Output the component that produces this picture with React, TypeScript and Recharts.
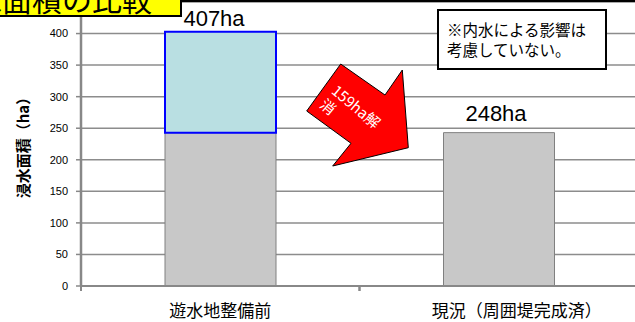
import { BarChart, Bar, XAxis, YAxis, CartesianGrid } from 'recharts';

const categories = ['遊水地整備前', '現況（周囲堤完成済）'];
const remainingArea = [243, 243];
const resolvedArea = [160, 0];
const yTicks = [0, 50, 100, 150, 200, 250, 300, 350, 400];
const totalLabels = ['407ha', '248ha'];

const data = categories.map((name, i) => ({
    name,
    remaining: remainingArea[i],
    resolved: resolvedArea[i],
}));

const jpFont = '"Noto Sans CJK JP", "Noto Sans", sans-serif';

function CategoryTick(props: any) {
    const { x, y, payload, index } = props;
    const half = payload?.offset ?? 139;
    const shift = index === 1 ? 18 : 0;
    return (
        <g>
            <line x1={x - half} x2={x - half} y1={y - 8} y2={y - 3} stroke="#888" strokeWidth={2} />
            <line x1={x + half} x2={x + half} y1={y - 8} y2={y - 3} stroke="#888" strokeWidth={2} />
            <text x={x + shift} y={y + 23} textAnchor="middle" fontSize={17} fill="#000" fontFamily={jpFont}>
                {payload.value}
            </text>
        </g>
    );
}

export default function App() {
    return (
        <div style={{ position: 'absolute', left: 0, top: 0, width: 635, height: 322, overflow: 'hidden', background: '#fff' }}>
            <BarChart
                width={640}
                height={322}
                data={data}
                margin={{ top: 2, right: 2, bottom: 0, left: 0 }}
            >
                <CartesianGrid vertical={false} stroke="#8c8c8c" strokeWidth={1.5} />
                <XAxis
                    dataKey="name"
                    height={36}
                    axisLine={{ stroke: '#888', strokeWidth: 2 }}
                    tickLine={false}
                    tick={<CategoryTick />}
                    interval={0}
                />
                <YAxis
                    width={81}
                    domain={[0, 450]}
                    ticks={yTicks}
                    interval={0}
                    axisLine={{ stroke: '#888', strokeWidth: 2.5 }}
                    tickLine={{ stroke: '#888', strokeWidth: 1.5 }}
                    tickSize={5}
                    tickMargin={8}
                    tick={{ fontSize: 11, fill: '#000', fontFamily: 'Liberation Sans, Arial, sans-serif' }}
                    label={{
                        value: '浸水面積（ha）',
                        angle: -90,
                        position: 'insideLeft',
                        offset: 24,
                        style: { fontSize: 15, fontWeight: 'bold', fill: '#000', fontFamily: jpFont, textAnchor: 'middle' },
                    }}
                />
                <Bar dataKey="remaining" stackId="a" barSize={111} fill="#c8c8c8" stroke="#808080" strokeWidth={1} isAnimationActive={false} />
                <Bar dataKey="resolved" stackId="a" barSize={111} fill="#b9dfe2" stroke="#0000ff" strokeWidth={2} isAnimationActive={false} />
            </BarChart>

            <svg width={635} height={322} style={{ position: 'absolute', left: 0, top: 0, pointerEvents: 'none' }}>
                {/* frame top edge */}
                <line x1={0} x2={635} y1={1} y2={1} stroke="#000" strokeWidth={2} />
                {/* title box, clipped at the top */}
                <rect x={-5} y={-20} width={186} height={36} fill="#ffff00" stroke="#000" strokeWidth={2} />
                <text x={152} y={11} textAnchor="end" fontSize={30} fill="#000" fontFamily={jpFont}>浸水面積の比較</text>

                <text x={214} y={26} textAnchor="middle" fontSize={22} fill="#000" fontFamily="Liberation Sans, Arial, sans-serif">{totalLabels[0]}</text>
                <text x={496} y={121} textAnchor="middle" fontSize={22} fill="#000" fontFamily="Liberation Sans, Arial, sans-serif">{totalLabels[1]}</text>

                {/* note box */}
                <rect x={438} y={10} width={168} height={59} fill="#fff" stroke="#000" strokeWidth={2} />
                <text x={447} y={36} fontSize={15.5} fill="#000" fontFamily={jpFont}>※内水による影響は</text>
                <text x={447} y={56} fontSize={15.5} fill="#000" fontFamily={jpFont}>考慮していない。</text>

                {/* arrow */}
                <polygon
                    points="340.7,64 306.7,111 351,143.3 332.7,166 408.3,147.7 402.3,70 385,95"
                    fill="#ff0000"
                    stroke="#000"
                    strokeWidth={1}
                />
                <g transform="translate(330.4,92.5) rotate(40)">
                    <text x={0} y={0} fontSize={15} fill="#fff" fontFamily={jpFont}>159ha解</text>
                    <text x={0} y={18} fontSize={15} fill="#fff" fontFamily={jpFont}>消</text>
                </g>
            </svg>
        </div>
    );
}
